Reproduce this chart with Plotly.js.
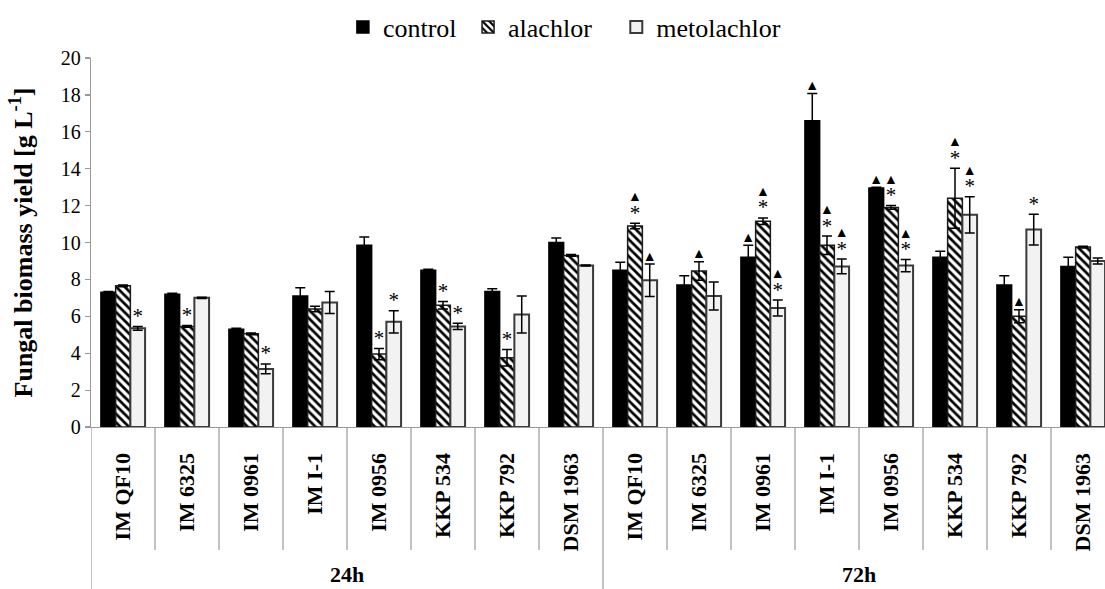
<!DOCTYPE html>
<html>
<head>
<meta charset="utf-8">
<script src="https://cdn.plot.ly/plotly-3.0.1.min.js"></script>
<style>
html,body{margin:0;padding:0;overflow:hidden;background:#fff;}
#chart{width:1125px;height:589px;}
</style>
</head>
<body>
<div id="chart"></div>
<script>
const strains = ['IM QF10','IM 6325','IM 0961','IM I-1','IM 0956','KKP 534','KKP 792','DSM 1963'];
const times = ['24h','72h'];

const control24 = [7.3, 7.2, 5.3, 7.1, 9.85, 8.5, 7.35, 10.0];
const controlErr24 = [0.05, 0.05, 0.05, 0.45, 0.45, 0.05, 0.15, 0.25];
const alachlor24 = [7.65, 5.45, 5.05, 6.4, 3.95, 6.6, 3.75, 9.3];
const alachlorErr24 = [0.05, 0.05, 0.05, 0.15, 0.3, 0.2, 0.45, 0.05];
const metolachlor24 = [5.35, 7.0, 3.15, 6.75, 5.7, 5.45, 6.1, 8.75];
const metolachlorErr24 = [0.1, 0.03, 0.27, 0.6, 0.6, 0.17, 1.0, 0.03];

const control72 = [8.5, 7.7, 9.2, 16.6, 12.95, 9.2, 7.7, 8.7];
const controlErr72 = [0.43, 0.5, 0.65, 1.48, 0.05, 0.32, 0.5, 0.5];
const alachlor72 = [10.9, 8.45, 11.15, 9.85, 11.9, 12.4, 6.0, 9.75];
const alachlorErr72 = [0.15, 0.5, 0.18, 0.5, 0.1, 1.63, 0.35, 0.05];
const metolachlor72 = [7.95, 7.1, 6.45, 8.7, 8.75, 11.5, 10.7, 9.0];
const metolachlorErr72 = [0.88, 0.76, 0.43, 0.4, 0.33, 0.98, 0.83, 0.16];

// significance marks: * vs control at same time, ▲ vs 24h
const controlMarks = ['', '', '', '', '', '', '', '',   '', '', '▲', '▲', '▲', '', '', ''];
const alachlorMarks = ['', '*', '', '', '*', '*', '*', '',   '▲*', '▲', '▲*', '▲*', '▲*', '▲*', '▲', ''];
const metolachlorMarks = ['*', '', '*', '', '*', '*', '', '',   '▲', '', '▲*', '▲*', '▲*', '▲*', '*', ''];

const seriesNames = ['control', 'alachlor', 'metolachlor'];
const legendPad = [1, 3, 0]; // extra spacing after each legend entry

const allStrains = strains.concat(strains);
const xs = allStrains.map((_, i) => i);
const values = [control24.concat(control72), alachlor24.concat(alachlor72), metolachlor24.concat(metolachlor72)];
const errs = [controlErr24.concat(controlErr72), alachlorErr24.concat(alachlorErr72), metolachlorErr24.concat(metolachlorErr72)];
const marks = [controlMarks, alachlorMarks, metolachlorMarks];

const serif = '"Liberation Serif", "Times New Roman", serif';

function markText(m) {
  const star = '<span style="font-size:21px">*</span>';
  if (m === '▲*') return '▲<br>' + star;
  if (m === '*') return star;
  return m;
}

const markers = [
  {color: '#000000', line: {color: '#000000', width: 1.5}},
  {color: '#ffffff', pattern: {shape: '\\', fgcolor: '#000000', bgcolor: '#ffffff', size: 6, solidity: 0.45}, line: {color: '#1a1a1a', width: 1.5}},
  {color: '#f2f2f2', line: {color: '#3a3a3a', width: 2}}
];

const traces = [];
seriesNames.forEach((name, k) => {
  traces.push({
    type: 'bar', name: name + '\u00a0'.repeat(legendPad[k]), x: xs, y: values[k], offsetgroup: String(k),
    marker: markers[k],
    error_y: {type: 'data', array: errs[k], visible: true, color: '#000', thickness: 1.5, width: 5},
    hoverinfo: 'y'
  });
});
seriesNames.forEach((name, k) => {
  traces.push({
    type: 'scatter', mode: 'text', showlegend: false, offsetgroup: String(k),
    x: xs, y: values[k].map((v, i) => v + errs[k][i]),
    text: marks[k].map(markText), textposition: 'top center',
    textfont: {family: serif, size: 14, color: '#000000'},
    hoverinfo: 'skip', cliponaxis: false
  });
});

const plotH = 589 - 58 - 162;
const shapes = [];
for (let i = 0; i < allStrains.length - 1; i++) {
  if (i === strains.length - 1) continue;
  shapes.push({type: 'line', xref: 'x', yref: 'paper', x0: i + 0.5, x1: i + 0.5, y0: 0, y1: -123 / plotH, line: {color: '#999', width: 1.2}});
}
[-0.5, strains.length - 0.5, allStrains.length - 0.5].forEach(b => {
  shapes.push({type: 'line', xref: 'x', yref: 'paper', x0: b, x1: b, y0: 0, y1: -162 / plotH, line: {color: '#999', width: 1.2}});
});

const annotations = times.map((t, g) => ({
  xref: 'x', yref: 'paper', x: g * strains.length + (strains.length - 1) / 2, y: -147 / plotH,
  text: '<b>' + t + '</b>', showarrow: false, yanchor: 'middle',
  font: {family: serif, size: 22, color: '#000'}
}));

const layout = {
  width: 1125, height: 589,
  margin: {l: 91, r: 10, t: 58, b: 162, autoexpand: false},
  paper_bgcolor: '#fff', plot_bgcolor: '#fff',
  barmode: 'group', bargap: 0.31, bargroupgap: 0,
  scattermode: 'group', scattergap: 0.31,
  showlegend: true,
  legend: {orientation: 'h', x: 0.246, xanchor: 'left', y: 1 + 31 / plotH, yanchor: 'middle',
    font: {family: serif, size: 26, color: '#000'}, itemwidth: 30, traceorder: 'normal'},
  xaxis: {
    range: [-0.5, allStrains.length - 0.5], tickmode: 'array', tickvals: xs, ticktext: allStrains.map(s => '<b>' + s + '</b>'),
    tickangle: -90, tickfont: {family: serif, size: 22, color: '#000'}, ticks: '', ticklabelstandoff: 16,
    showline: true, linecolor: '#999', linewidth: 1.2, showgrid: false, zeroline: false, fixedrange: true
  },
  yaxis: {
    range: [0, 20], dtick: 2, tick0: 0, ticks: 'outside', ticklen: 5, tickcolor: '#999', tickwidth: 1.2,
    tickfont: {family: serif, size: 20, color: '#000'},
    showline: true, linecolor: '#999', linewidth: 1.2, showgrid: false, zeroline: false,
    title: {text: '<b>Fungal biomass yield [g L<sup>-1</sup>]</b>', font: {family: serif, size: 26, color: '#000'}, standoff: 20}
  },
  shapes: shapes,
  annotations: annotations
};

Plotly.newPlot('chart', traces, layout, {displayModeBar: false, staticPlot: true});
</script>
</body>
</html>
